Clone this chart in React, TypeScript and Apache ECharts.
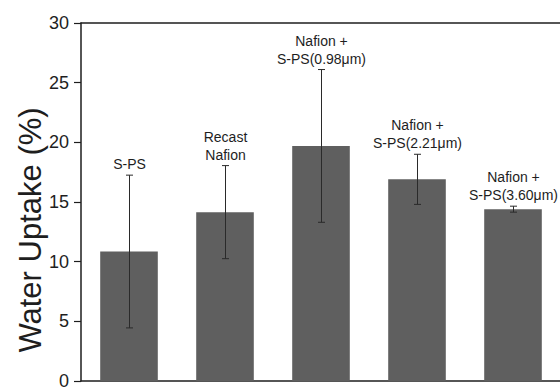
import React, { useEffect, useRef } from "react";
import * as echarts from "echarts";

const categories = ["S-PS", "Recast Nafion", "Nafion + S-PS(0.98μm)", "Nafion + S-PS(2.21μm)", "Nafion + S-PS(3.60μm)"];
const barLabels = ["S-PS", "Recast\nNafion", "Nafion +\nS-PS(0.98μm)", "Nafion +\nS-PS(2.21μm)", "Nafion +\nS-PS(3.60μm)"];
const uptake = [10.85, 14.15, 19.7, 16.9, 14.4];
const uptakeError = [6.4, 3.9, 6.4, 2.1, 0.25];
const yTicks = [0, 5, 10, 15, 20, 25, 30];
const yTitle = "Water Uptake (%)";

const FONT = "'Liberation Sans', Arial, sans-serif";
const INK = "#1e1e1e";

export default function App() {
  const ref = useRef<HTMLDivElement>(null);
  useEffect(() => {
    if (!ref.current) return;
    const chart = echarts.init(ref.current, undefined, { renderer: "svg" });
    const errData = uptake.map((v, i) => [i, v - uptakeError[i], v + uptakeError[i]]);
    chart.setOption({
      animation: false,
      backgroundColor: "#ffffff",
      textStyle: { fontFamily: FONT },
      grid: { left: 81, right: 1, top: 23, bottom: 2.5 },
      xAxis: [
        {
          type: "category",
          data: categories,
          axisLine: { show: true, lineStyle: { color: INK, width: 1.5 } },
          axisTick: { show: false },
          axisLabel: { show: false },
        },
        {
          type: "category",
          position: "top",
          data: categories,
          axisLine: { show: true, lineStyle: { color: INK, width: 1.5 } },
          axisTick: { show: false },
          axisLabel: { show: false },
        },
      ],
      yAxis: {
        type: "value",
        min: yTicks[0],
        max: yTicks[yTicks.length - 1],
        interval: yTicks[1] - yTicks[0],
        axisLine: { show: true, lineStyle: { color: INK, width: 1.5 } },
        axisTick: { show: true, inside: false, length: 7, lineStyle: { color: INK, width: 1.2 } },
        axisLabel: { fontSize: 18, color: INK, margin: 12, fontFamily: FONT },
        splitLine: { show: false },
      },
      graphic: [
        {
          type: "text",
          x: 30,
          y: 230,
          rotation: Math.PI / 2,
          style: {
            text: yTitle,
            fontSize: 31,
            fontFamily: FONT,
            fill: INK,
            align: "center",
            verticalAlign: "middle",
          },
        },
      ],
      series: [
        {
          type: "bar",
          data: uptake,
          barWidth: "60%",
          itemStyle: { color: "#5f5f5f" },
          z: 2,
        },
        {
          type: "custom",
          data: errData,
          z: 3,
          renderItem: (params: any, api: any) => {
            const i = api.value(0);
            const lo = api.coord([i, api.value(1)]);
            const hi = api.coord([i, api.value(2)]);
            const x = Math.round(hi[0]) + 0.5;
            const cap = 3.5;
            const ls = { stroke: "#2a2a2a", lineWidth: 1 };
            return {
              type: "group",
              children: [
                { type: "line", shape: { x1: x, y1: hi[1], x2: x, y2: lo[1] }, style: ls },
                { type: "line", shape: { x1: x - cap, y1: hi[1], x2: x + cap, y2: hi[1] }, style: ls },
                { type: "line", shape: { x1: x - cap, y1: lo[1], x2: x + cap, y2: lo[1] }, style: ls },
                {
                  type: "text",
                  x: x,
                  y: hi[1] - 2,
                  style: {
                    text: barLabels[params.dataIndex],
                    fontSize: 14,
                    lineHeight: 18,
                    fontFamily: FONT,
                    fill: INK,
                    align: "center",
                    verticalAlign: "bottom",
                  },
                },
              ],
            };
          },
        },
      ],
    });
    return () => chart.dispose();
  }, []);
  return (
    <div style={{ position: "fixed", left: 0, top: 0, width: 560, height: 390, overflow: "hidden", background: "#fff" }}>
      <div ref={ref} style={{ width: 562, height: 390 }} />
    </div>
  );
}
